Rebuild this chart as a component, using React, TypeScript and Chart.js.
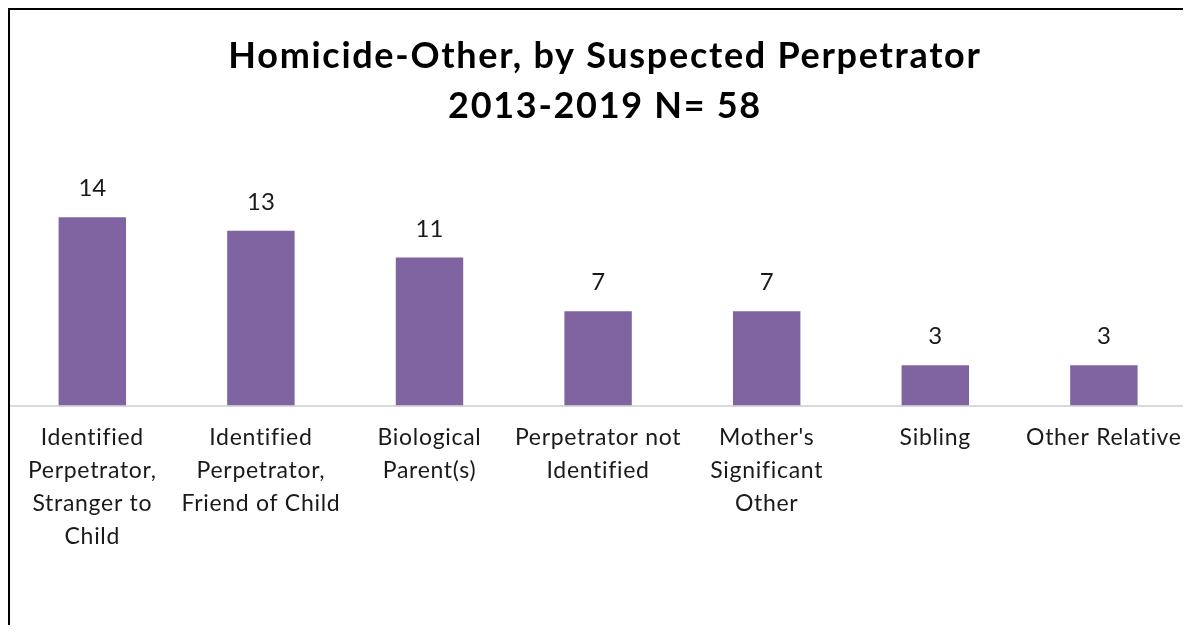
import React, { useEffect, useRef } from "react";
import { Chart, registerables } from "chart.js";

Chart.register(...registerables);

const titleLines: string[] = ["Homicide-Other, by Suspected Perpetrator", "2013-2019 N= 58"];
const categories: string[][] = [
  ["Identified", "Perpetrator,", "Stranger to", "Child"],
  ["Identified", "Perpetrator,", "Friend of Child"],
  ["Biological", "Parent(s)"],
  ["Perpetrator not", "Identified"],
  ["Mother's", "Significant", "Other"],
  ["Sibling"],
  ["Other Relative"],
];
const counts: number[] = [14, 13, 11, 7, 7, 3, 3];

const W = 1185;
const H = 625;

export default function App() {
  const ref = useRef<HTMLCanvasElement | null>(null);

  useEffect(() => {
    const canvas = ref.current;
    if (!canvas) return;
    document.documentElement.style.overflow = "hidden";

    const decorations = {
      id: "decorations",
      beforeDraw(chart: any) {
        (chart.ctx as any).letterSpacing = "0.7px";
      },
      afterDatasetsDraw(chart: any) {
        const ctx = chart.ctx;
        const meta = chart.getDatasetMeta(0);
        ctx.save();
        (ctx as any).letterSpacing = "0px";
        ctx.fillStyle = "#1a1a1a";
        ctx.font = "24px Lato";
        ctx.textAlign = "center";
        ctx.textBaseline = "alphabetic";
        meta.data.forEach((bar: any, i: number) => {
          ctx.fillText(String(counts[i]), bar.x, bar.y - 21);
        });
        ctx.restore();
      },
      afterDraw(chart: any) {
        const ctx = chart.ctx;
        ctx.save();
        (ctx as any).letterSpacing = "1.7px";
        ctx.fillStyle = "#000000";
        ctx.font = "bold 36px Lato";
        ctx.textAlign = "center";
        ctx.textBaseline = "alphabetic";
        ctx.fillText(titleLines[0], 597, 59.5);
        ctx.fillText(titleLines[1], 597, 109.5);
        ctx.restore();
        (ctx as any).letterSpacing = "0px";
      },
    };

    const chart = new Chart(canvas, {
      type: "bar",
      data: {
        labels: categories,
        datasets: [
          {
            data: counts,
            backgroundColor: "#8064a2",
            borderWidth: 0,
            categoryPercentage: 1,
            barPercentage: 0.4,
          },
        ],
      },
      options: {
        responsive: false,
        animation: false,
        devicePixelRatio: 1,
        layout: { padding: { top: 195.75, left: 0, right: 0, bottom: 0 } },
        plugins: {
          legend: { display: false },
          title: { display: false },
          tooltip: { enabled: false },
        },
        scales: {
          x: {
            grid: { display: false, drawTicks: false },
            border: { display: true, color: "#d9d9d9", width: 2 },
            ticks: {
              color: "#1a1a1a",
              font: { family: "Lato", size: 23, lineHeight: 1.43 },
              padding: 16,
              maxRotation: 0,
              minRotation: 0,
              autoSkip: false,
            },
            afterFit: (scale: any) => {
              scale.height = 227.5;
            },
          },
          y: {
            display: false,
            min: 0,
            max: 15,
          },
        },
      },
      plugins: [decorations],
    });

    return () => {
      chart.destroy();
    };
  }, []);

  return (
    <div style={{ position: "relative", width: W, height: H, marginBottom: -8 }}>
      <canvas ref={ref} width={W} height={H} style={{ position: "absolute", left: 0, top: 0, width: W, height: H }} />
      <div
        style={{
          position: "absolute",
          left: 0,
          top: 0,
          right: 0,
          bottom: 0,
          borderLeft: "2px solid #000",
          borderTop: "2px solid #000",
          pointerEvents: "none",
        }}
      />
    </div>
  );
}
